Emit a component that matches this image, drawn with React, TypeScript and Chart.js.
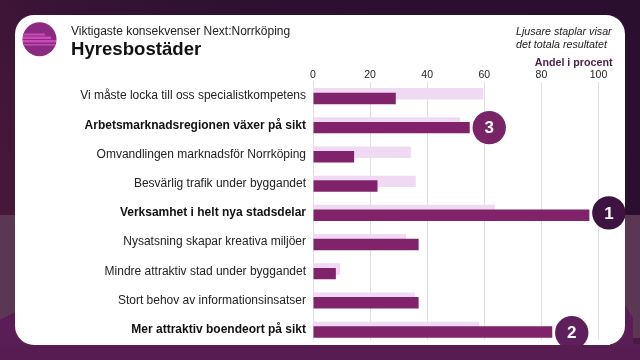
import React, { useEffect, useRef } from "react";
import { Chart, registerables } from "chart.js";

Chart.register(...registerables);

const categories = [
  "Vi måste locka till oss specialistkompetens",
  "Arbetsmarknadsregionen växer på sikt",
  "Omvandlingen marknadsför Norrköping",
  "Besvärlig trafik under byggandet",
  "Verksamhet i helt nya stadsdelar",
  "Nysatsning skapar kreativa miljöer",
  "Mindre attraktiv stad under byggandet",
  "Stort behov av informationsinsatser",
  "Mer attraktiv boendeort på sikt",
];
const boldRows = [1, 4, 8];
const totalValues = [59.7, 51.5, 34.3, 36, 63.7, 32.6, 9.5, 35.6, 58.2];
const nextValues = [29, 54.9, 14.4, 22.6, 96.8, 37, 8, 37, 83.8];
const xTicks = [0, 20, 40, 60, 80, 100];
const badgeRows = [4, 8, 1];
const badgeLabels = ["1", "2", "3"];
const badgeColors = ["#3d1440", "#5e1f5c", "#7a2468"];
const badgeShift = [0, 3, 2.3];

const FONT = '"Liberation Sans", Arial, sans-serif';

function cardPath(ctx: CanvasRenderingContext2D) {
  ctx.beginPath();
  ctx.roundRect(15, 15, 610, 330, 19);
}

const backdrop = {
  id: "backdrop",
  beforeDraw(chart: any) {
    const ctx: CanvasRenderingContext2D = chart.ctx;
    ctx.save();
    const g = ctx.createLinearGradient(500, -60, 60, 240);
    g.addColorStop(0, "#2a0f2e");
    g.addColorStop(0.55, "#2f1130");
    g.addColorStop(1, "#451739");
    ctx.fillStyle = g;
    ctx.fillRect(0, 0, 640, 215);
    ctx.fillStyle = "#5a1d55";
    ctx.fillRect(0, 215, 640, 145);
    ctx.fillStyle = "#5b3753";
    ctx.beginPath();
    ctx.moveTo(0, 215);
    ctx.lineTo(15, 215);
    ctx.lineTo(15, 312);
    ctx.lineTo(0, 320);
    ctx.closePath();
    ctx.fill();
    ctx.beginPath();
    ctx.moveTo(625, 215);
    ctx.lineTo(640, 215);
    ctx.lineTo(640, 338);
    ctx.lineTo(633, 338);
    ctx.lineTo(633, 318);
    ctx.lineTo(625, 305);
    ctx.closePath();
    ctx.fill();
    ctx.fillStyle = "#4a1848";
    ctx.fillRect(633, 338, 7, 6);
    ctx.fillStyle = "#571c52";
    ctx.fillRect(0, 345, 640, 15);
    cardPath(ctx);
    ctx.fillStyle = "#ffffff";
    ctx.fill();

    // icon
    ctx.fillStyle = "#8a2a80";
    ctx.beginPath();
    ctx.arc(39.5, 39.3, 17, 0, Math.PI * 2);
    ctx.fill();
    ctx.save();
    ctx.beginPath();
    ctx.arc(39.5, 39.3, 17, 0, Math.PI * 2);
    ctx.clip();
    ctx.fillStyle = "#c94ab8";
    ctx.fillRect(23, 33.5, 22, 2);
    ctx.fillRect(23, 36.5, 28, 2.5);
    ctx.fillRect(23, 40, 33, 2.5);
    ctx.fillRect(23, 44, 33, 1.5);
    ctx.restore();

    // texts
    ctx.textBaseline = "alphabetic";
    ctx.textAlign = "left";
    ctx.fillStyle = "#222222";
    ctx.font = `12px ${FONT}`;
    ctx.fillText("Viktigaste konsekvenser Next:Norrköping", 71, 35);
    ctx.fillStyle = "#111111";
    ctx.font = `bold 18.6px ${FONT}`;
    ctx.fillText("Hyresbostäder", 71, 54.5);
    ctx.fillStyle = "#222222";
    ctx.font = `italic 10.7px ${FONT}`;
    ctx.fillText("Ljusare staplar visar", 516, 35);
    ctx.fillText("det totala resultatet", 516, 48);
    ctx.textAlign = "right";
    ctx.fillStyle = "#4a1d4a";
    ctx.font = `bold 10.7px ${FONT}`;
    ctx.fillText("Andel i procent", 612.5, 65.5);
    ctx.restore();
  },
  beforeDatasetsDraw(chart: any) {
    const ctx: CanvasRenderingContext2D = chart.ctx;
    ctx.save();
    ctx.fillStyle = "#ffffff";
    ctx.fillRect(300, 340, 310, 5);
    ctx.restore();
  },
};

const badges = {
  id: "badges",
  afterDatasetsDraw(chart: any) {
    const ctx: CanvasRenderingContext2D = chart.ctx;
    const xs = chart.scales.x;
    const ys = chart.scales.y;
    ctx.save();
    cardPath(ctx);
    ctx.clip();
    badgeRows.forEach((row, i) => {
      const cx = xs.getPixelForValue(nextValues[row]) + 19.5;
      const cy = ys.getPixelForValue(row) + badgeShift[i];
      ctx.fillStyle = badgeColors[i];
      ctx.beginPath();
      ctx.arc(cx, cy, 16.7, 0, Math.PI * 2);
      ctx.fill();
      ctx.fillStyle = "#ffffff";
      ctx.font = `bold 17px ${FONT}`;
      ctx.textAlign = "center";
      ctx.textBaseline = "middle";
      ctx.fillText(badgeLabels[i], cx, cy + 1);
    });
    ctx.restore();
  },
};

export default function App() {
  const ref = useRef<HTMLCanvasElement>(null);
  useEffect(() => {
    document.body.style.margin = "0";
    const chart = new Chart(ref.current!, {
      type: "bar",
      data: {
        labels: categories,
        datasets: [
          {
            label: "Next:Norrköping",
            data: nextValues,
            backgroundColor: "#80236a",
            order: 0,
            categoryPercentage: -0.32,
            barPercentage: -2.45,
          },
          {
            label: "Totalt",
            data: totalValues,
            backgroundColor: "#f0d9f3",
            order: 1,
            categoryPercentage: -0.32,
            barPercentage: -2.45,
          },
        ],
      },
      options: {
        indexAxis: "y",
        animation: false,
        responsive: false,
        layout: { padding: { left: 0, right: 41.5, top: 0, bottom: 15.7 } },
        plugins: { legend: { display: false }, title: { display: false }, tooltip: { enabled: false } },
        scales: {
          x: {
            position: "top",
            min: 0,
            max: 100,
            afterFit: (s: any) => {
              s.height = 81.5;
            },
            afterBuildTicks: (s: any) => {
              s.ticks = xTicks.map((value) => ({ value }));
            },
            border: { display: false },
            grid: { color: "#e2dee2", lineWidth: 1, drawTicks: false },
            ticks: { color: "#222222", padding: 0, maxRotation: 0, font: { family: FONT, size: 10.5 } },
          },
          y: {
            afterFit: (s: any) => {
              s.width = 313;
            },
            border: { display: true, color: "#e2dee2" },
            grid: { display: false, drawTicks: false },
            ticks: {
              color: (c: any) => (boldRows.includes(c.index) ? "#111111" : "#222222"),
              padding: 7,
              autoSkip: false,
              font: (c: any) => ({
                family: FONT,
                size: 12,
                weight: boldRows.includes(c.index) ? "bold" : "normal",
              }),
            },
          },
        },
      },
      plugins: [backdrop, badges],
    } as any);
    return () => chart.destroy();
  }, []);
  return (
    <div style={{ width: 640, height: 360 }}>
      <canvas ref={ref} width={640} height={360} style={{ display: "block" }} />
    </div>
  );
}
